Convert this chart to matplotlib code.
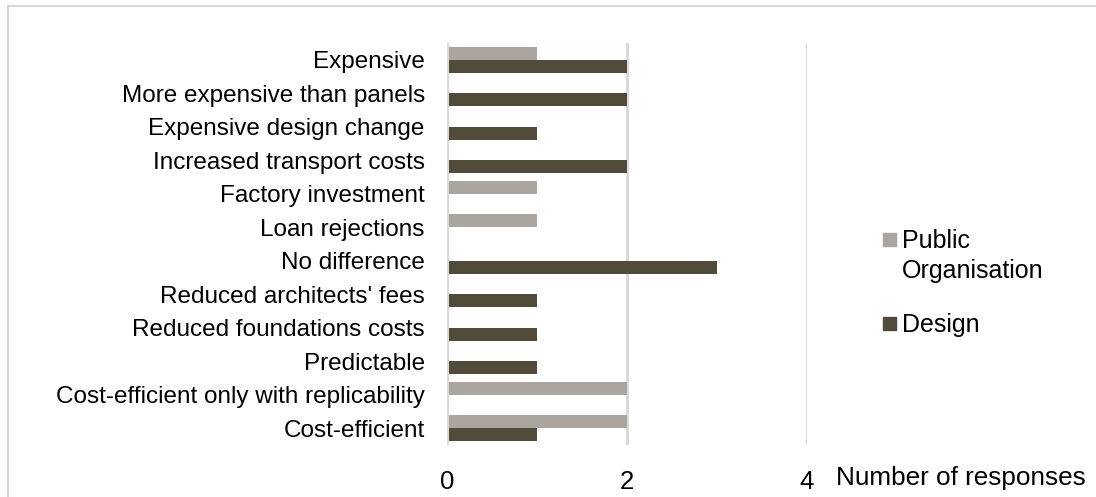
import matplotlib.pyplot as plt
from matplotlib.patches import Rectangle
import numpy as np

plt.rcParams['font.family'] = ['Liberation Sans', 'DejaVu Sans']

categories = [
    'Expensive',
    'More expensive than panels',
    'Expensive design change',
    'Increased transport costs',
    'Factory investment',
    'Loan rejections',
    'No difference',
    "Reduced architects' fees",
    'Reduced foundations costs',
    'Predictable',
    'Cost-efficient only with replicability',
    'Cost-efficient',
]
public_org = [1, 0, 0, 0, 1, 1, 0, 0, 0, 0, 2, 2]
design = [2, 2, 1, 2, 0, 0, 3, 1, 1, 1, 0, 1]

series_names = ['Public\nOrganisation', 'Design']
light = '#aba59f'
dark = '#534b3a'
grid_col = '#d9d9d9'

W, H = 1096, 497
fig = plt.figure(figsize=(W / 100, H / 100), dpi=100)
ax = fig.add_axes([447 / W, 1 - 445 / H, 360 / W, 402 / H])

y = np.arange(len(categories))
h = 0.39
ax.barh(y - h / 2, public_org, height=h, color=light, linewidth=0, zorder=3)
ax.barh(y + h / 2, design, height=h, color=dark, linewidth=0, zorder=3)

ax.set_xlim(0, 4)
ax.set_ylim(len(categories) - 0.5, -0.5)
ax.set_xticks([0, 2, 4])
ax.set_yticks(y)
ax.set_yticklabels(categories)
for s in ax.spines.values():
    s.set_visible(False)
# value axis line at 0 sits over the bar starts, the other gridlines behind
for xv in [0, 2, 4]:
    ax.axvline(xv, color=grid_col, linewidth=2.2, zorder=4 if xv == 0 else 1)
ax.tick_params(axis='both', length=0, colors='black')
ax.tick_params(axis='y', labelsize=17.5, pad=16)
ax.tick_params(axis='x', labelsize=18.5, pad=18)

fig.text(836 / W, 1 - 485 / H, 'Number of responses', fontsize=18.8,
         ha='left', va='baseline')

# legend drawn by hand so the marker sits on the first text line
legend_items = [
    (series_names[0], light, 233, 248),
    (series_names[1], dark, 317, 332),
]
sq = 13
for name, col, sq_top, baseline in legend_items:
    fig.add_artist(Rectangle((883 / W, 1 - (sq_top + sq) / H), sq / W, sq / H,
                             transform=fig.transFigure, color=col))
    for k, line in enumerate(name.split('\n')):
        fig.text(902 / W, 1 - (baseline + 30 * k) / H, line, fontsize=18,
                 ha='left', va='baseline')

# outer chart frame
fig.add_artist(Rectangle((8 / W, -0.1), 1.2, 1 - 6 / H + 0.1, transform=fig.transFigure,
                         fill=False, edgecolor='#d9d9d9', linewidth=1.5))

fig.savefig('out.png', dpi=100)
